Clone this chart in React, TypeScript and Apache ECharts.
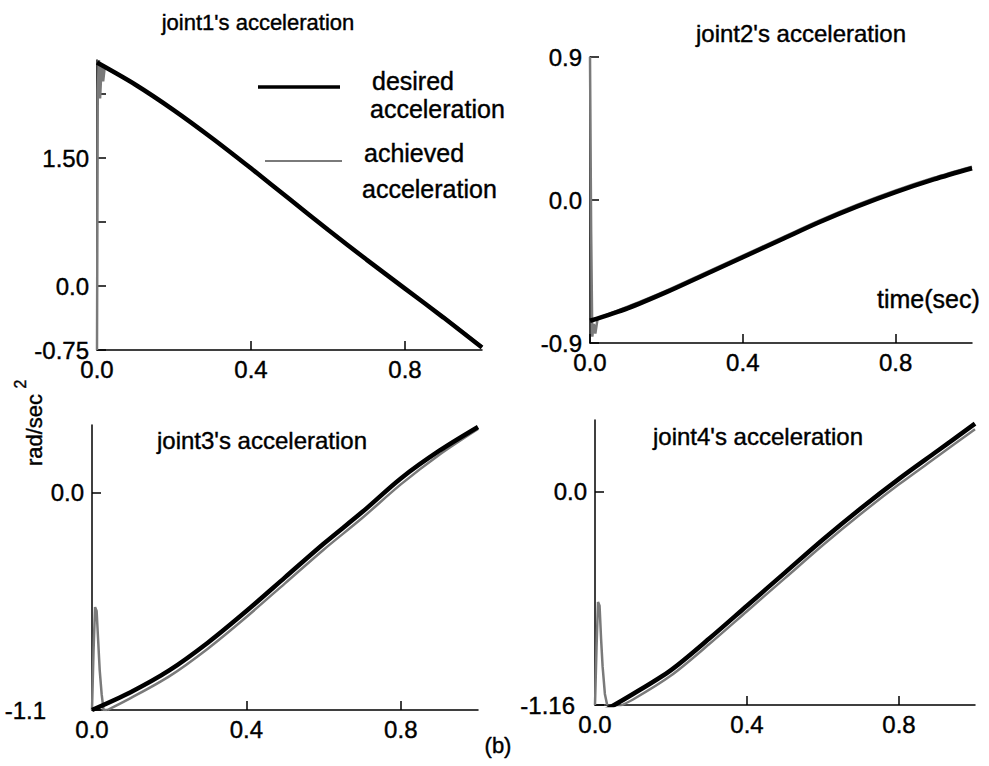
import { useEffect, useRef } from "react";
import * as echarts from "echarts";

const FONT = "'Liberation Sans', Arial, Helvetica, sans-serif";
const DESIRED_COLOR = "#000000";
const ACHIEVED_COLOR = "#7a7a7a";

// Shared time base for the desired trajectories (seconds)
const timeDesired = [0, 0.1, 0.2, 0.3, 0.4, 0.5, 0.6, 0.7, 0.8, 0.9, 1.0];
// Time base for the tracking part of the achieved trajectories
const timeTrack1 = [0.02, 0.1, 0.2, 0.3, 0.4, 0.5, 0.6, 0.7, 0.8, 0.9, 1.0];
const timeTrack2 = [0.02, 0.1, 0.2, 0.3, 0.4, 0.5, 0.6, 0.7, 0.8, 0.9, 1.0];
const timeTrack3 = [0.04, 0.1, 0.2, 0.3, 0.4, 0.5, 0.6, 0.7, 0.8, 0.9, 1.0];
const timeTrack4 = [0.05, 0.1, 0.2, 0.3, 0.4, 0.5, 0.6, 0.7, 0.8, 0.9, 1.0];

// joint 1
const joint1Desired = [2.62, 2.36, 2.06, 1.73, 1.38, 1.02, 0.66, 0.31, -0.03, -0.37, -0.72];
const joint1StartTime = [0, 0.002, 0.005, 0.008, 0.012, 0.016, 0.02];
const joint1StartValue = [-0.75, 2.3, 2.65, 2.2, 2.58, 2.4, 2.56];
const joint1Achieved = [2.56, 2.36, 2.06, 1.73, 1.38, 1.02, 0.66, 0.31, -0.03, -0.36, -0.71];

// joint 2
const joint2Desired = [-0.76, -0.68, -0.58, -0.47, -0.36, -0.25, -0.14, -0.04, 0.05, 0.13, 0.2];
const joint2StartTime = [0, 0.003, 0.006, 0.01, 0.014, 0.02];
const joint2StartValue = [0.9, -0.2, -0.86, -0.78, -0.84, -0.745];
const joint2Achieved = [-0.745, -0.67, -0.57, -0.46, -0.35, -0.24, -0.13, -0.03, 0.06, 0.14, 0.21];

// joint 3
const joint3Desired = [-1.1, -1.01, -0.9, -0.76, -0.6, -0.43, -0.26, -0.1, 0.07, 0.21, 0.33];
const joint3StartTime = [0, 0.004, 0.008, 0.012, 0.016, 0.02, 0.025, 0.03, 0.04];
const joint3StartValue = [-1.1, -0.8, -0.58, -0.6, -0.75, -0.9, -1.02, -1.1, -1.1];
const joint3Achieved = [-1.1, -1.04, -0.93, -0.79, -0.63, -0.46, -0.29, -0.13, 0.04, 0.19, 0.32];

// joint 4
const joint4Desired = [-1.22, -1.1, -0.97, -0.8, -0.62, -0.44, -0.26, -0.09, 0.07, 0.22, 0.37];
const joint4StartTime = [0, 0.004, 0.008, 0.012, 0.016, 0.02, 0.026, 0.032];
const joint4StartValue = [-1.16, -0.85, -0.6, -0.62, -0.8, -0.95, -1.1, -1.16];
const joint4Achieved = [-1.18, -1.13, -1.0, -0.83, -0.65, -0.47, -0.29, -0.12, 0.04, 0.19, 0.34];

// Axis ticks and labels
const xTickValues = [0, 0.4, 0.8];
const xTickLabels = ["0.0", "0.4", "0.8"];
const y1TickValues = [-0.75, 0, 0.75, 1.5, 2.25];
const y1LabelValues = [-0.75, 0, 1.5];
const y1Labels = ["-0.75", "0.0", "1.50"];
const y2TickValues = [-0.9, 0, 0.9];
const y2Labels = ["-0.9", "0.0", "0.9"];
const y3TickValues = [-1.1, 0];
const y3Labels = ["-1.1", "0.0"];
const y4TickValues = [-1.16, 0];
const y4Labels = ["-1.16", "0.0"];

const titles = [
  "joint1's acceleration",
  "joint2's acceleration",
  "joint3's acceleration",
  "joint4's acceleration",
];

const zip = (xs: number[], ys: number[]) => xs.map((x, i) => [x, ys[i]]);

// Labels whose text sits further left of the axis use the "far" rich style
const labelFor =
  (values: number[], labels: string[], far: string[] = [], wide: string[] = []) =>
  (v: number) => {
    const idx = values.findIndex((u) => Math.abs(u - v) < 1e-9);
    if (idx < 0) return "";
    const s = labels[idx];
    if (far.includes(s)) return `{far|${s}}`;
    if (wide.includes(s)) return `{wide|${s}}`;
    return s;
  };

export default function App() {
  const ref = useRef<HTMLDivElement>(null);

  useEffect(() => {
    if (!ref.current) return;
    const chart = echarts.init(ref.current, undefined, { renderer: "svg" });

    const grids = [
      { left: 97, top: 60, width: 385, height: 290 },
      { left: 590, top: 57, width: 382, height: 286 },
      { left: 92, top: 425, width: 386, height: 285 },
      { left: 595, top: 420, width: 380, height: 285 },
    ];

    const axisLine = { show: true, lineStyle: { color: "#000", width: 1.5 } };
    const labelText = {
      color: "#000",
      fontFamily: FONT,
      fontSize: 24,
      textBorderColor: "#000",
      textBorderWidth: 0.4,
    };
    const richStyles = {
      far: { ...labelText, padding: [0, 38, 0, 0] },
      wide: { ...labelText, padding: [0, 12, 0, 0] },
    };

    const xAxes = grids.map((_, i) => ({
      type: "value",
      gridIndex: i,
      min: 0,
      max: 1,
      axisLine: { ...axisLine, onZero: false },
      splitLine: { show: false },
      axisTick: {
        show: true,
        inside: true,
        length: 9,
        lineStyle: { color: "#000", width: 1.5 },
        customValues: xTickValues,
      },
      axisLabel: {
        ...labelText,
        margin: 7,
        customValues: xTickValues,
        formatter: labelFor(xTickValues, xTickLabels),
      },
    }));

    const yDefs = [
      { min: -0.75, max: 2.65, ticks: y1TickValues, labelVals: y1LabelValues, labels: y1Labels },
      { min: -0.9, max: 0.9, ticks: y2TickValues, labelVals: y2TickValues, labels: y2Labels },
      { min: -1.1, max: 0.34, ticks: y3TickValues, labelVals: y3TickValues, labels: y3Labels },
      { min: -1.16, max: 0.39, ticks: y4TickValues, labelVals: y4TickValues, labels: y4Labels },
    ];

    const yAxes = yDefs.map((d, i) => ({
      type: "value",
      gridIndex: i,
      min: d.min,
      max: d.max,
      axisLine: { ...axisLine, onZero: false },
      splitLine: { show: false },
      axisTick: {
        show: true,
        inside: true,
        length: 9,
        lineStyle: { color: "#000", width: 1.5 },
        customValues: d.ticks,
      },
      axisLabel: {
        ...labelText,
        margin: 8,
        customValues: d.labelVals,
        formatter: labelFor(d.labelVals, d.labels, ["-1.1"], ["-1.16"]),
        rich: richStyles,
      },
    }));

    const panels = [
      { desired: joint1Desired, st: joint1StartTime, sv: joint1StartValue, tt: timeTrack1, ach: joint1Achieved },
      { desired: joint2Desired, st: joint2StartTime, sv: joint2StartValue, tt: timeTrack2, ach: joint2Achieved },
      { desired: joint3Desired, st: joint3StartTime, sv: joint3StartValue, tt: timeTrack3, ach: joint3Achieved },
      { desired: joint4Desired, st: joint4StartTime, sv: joint4StartValue, tt: timeTrack4, ach: joint4Achieved },
    ];

    const series: any[] = [];
    panels.forEach((p, i) => {
      series.push({
        type: "line",
        name: "achieved acceleration",
        xAxisIndex: i,
        yAxisIndex: i,
        data: zip(p.st, p.sv),
        showSymbol: false,
        smooth: false,
        lineStyle: { color: ACHIEVED_COLOR, width: 2.5 },
        z: 2,
      });
      series.push({
        type: "line",
        name: "achieved acceleration",
        xAxisIndex: i,
        yAxisIndex: i,
        data: zip(p.tt, p.ach),
        showSymbol: false,
        smooth: 0.3,
        lineStyle: { color: ACHIEVED_COLOR, width: 2.5 },
        z: 2,
      });
      series.push({
        type: "line",
        name: "desired acceleration",
        xAxisIndex: i,
        yAxisIndex: i,
        data: zip(timeDesired, p.desired),
        showSymbol: false,
        smooth: 0.3,
        lineStyle: { color: DESIRED_COLOR, width: 4.5 },
        z: 3,
      });
    });

    const text = (
      str: string,
      x: number,
      y: number,
      size: number,
      align: string = "center",
      rotation = 0
    ) => ({
      type: "text",
      x,
      y,
      rotation,
      z: 10,
      style: {
        text: str,
        fill: "#000",
        stroke: "#000",
        lineWidth: 0.4,
        fontFamily: FONT,
        fontSize: size,
        align,
        verticalAlign: "middle",
      },
    });

    const graphic = [
      text(titles[0], 258, 22, 22),
      text(titles[1], 801, 33, 24),
      text(titles[2], 262, 440, 24),
      text(titles[3], 758, 436, 24),
      {
        type: "line",
        shape: { x1: 258, y1: 87, x2: 340, y2: 87 },
        style: { stroke: DESIRED_COLOR, lineWidth: 3.5 },
      },
      text("desired", 372, 81, 25, "left"),
      text("acceleration", 370, 109, 25, "left"),
      {
        type: "line",
        shape: { x1: 265, y1: 161, x2: 342, y2: 161 },
        style: { stroke: ACHIEVED_COLOR, lineWidth: 2 },
      },
      text("achieved", 364, 153, 25, "left"),
      text("acceleration", 362, 189, 25, "left"),
      text("time(sec)", 877, 299, 25, "left"),
      text("rad/sec", 34, 430, 22, "center", Math.PI / 2),
      text("2", 20, 384, 16, "center", Math.PI / 2),
      text("(b)", 498, 745, 22),
    ];

    chart.setOption({
      animation: false,
      backgroundColor: "#ffffff",
      grid: grids,
      xAxis: xAxes,
      yAxis: yAxes,
      series,
      graphic,
    } as any);

    return () => chart.dispose();
  }, []);

  return (
    <div
      ref={ref}
      style={{ position: "absolute", left: 0, top: 0, width: 989, height: 766, background: "#fff" }}
    />
  );
}
